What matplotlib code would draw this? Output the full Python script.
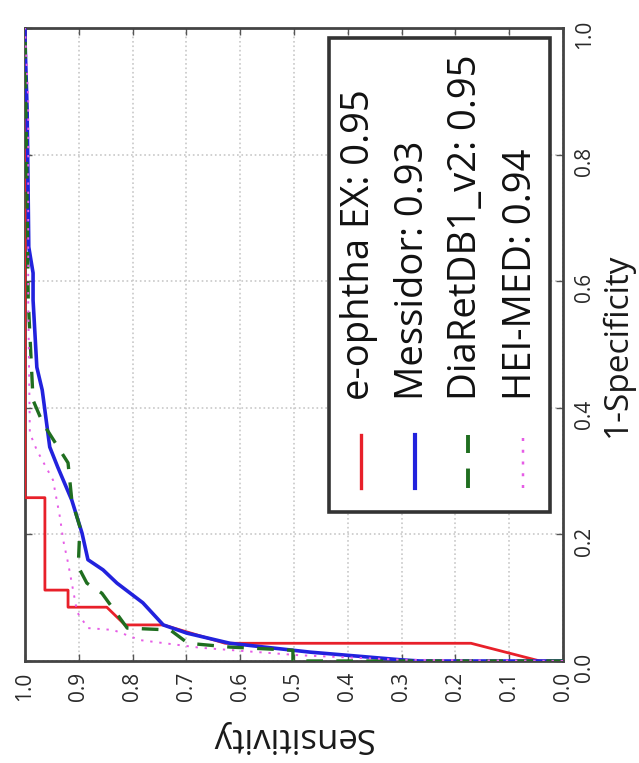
import numpy as np
import matplotlib
matplotlib.use("Agg")
import matplotlib.pyplot as plt
from matplotlib.patches import Rectangle

plt.rcParams['font.family'] = ['Open Sans', 'DejaVu Sans']

# ROC points per dataset: sensitivity (tpr) against 1-specificity (fpr)
eophtha_tpr = [0.0, 0.043, 0.171, 0.628, 0.743, 0.814, 0.848, 0.920, 0.920, 0.963, 0.963, 1.0, 1.0]
eophtha_fpr = [0.0, 0.0, 0.028, 0.028, 0.057, 0.057, 0.085, 0.085, 0.112, 0.112, 0.258, 0.258, 1.0]

messidor_tpr = [0.0, 0.266, 0.303, 0.470, 0.619, 0.699, 0.743, 0.781, 0.829, 0.855, 0.883,
                0.894, 0.913, 0.939, 0.954, 0.968, 0.978, 0.985, 0.985, 0.993, 0.996, 1.0, 1.0]
messidor_fpr = [0.0, 0.0, 0.002, 0.014, 0.028, 0.044, 0.057, 0.092, 0.123, 0.144, 0.160,
                0.202, 0.254, 0.306, 0.338, 0.428, 0.464, 0.570, 0.613, 0.654, 0.870, 0.981, 1.0]

diaret_tpr = [0.0, 0.502, 0.502, 0.619, 0.697, 0.730, 0.810, 0.857, 0.885, 0.901, 0.898,
              0.913, 0.920, 0.967, 0.985, 0.994, 1.0]
diaret_fpr = [0.0, 0.0, 0.017, 0.022, 0.028, 0.049, 0.052, 0.107, 0.123, 0.149, 0.212,
              0.254, 0.313, 0.376, 0.412, 0.570, 1.0]

heimed_tpr = [0.0, 0.303, 0.489, 0.675, 0.786, 0.836, 0.883, 0.903, 0.920, 0.929, 0.935,
              0.948, 0.978, 0.991, 0.994, 0.994, 1.0]
heimed_fpr = [0.0, 0.002, 0.009, 0.021, 0.033, 0.049, 0.052, 0.077, 0.155, 0.191, 0.227,
              0.286, 0.333, 0.360, 0.570, 0.886, 1.0]

names = ['e-ophtha EX', 'Messidor', 'DiaRetDB1_v2', 'HEI-MED']
aucs = [0.95, 0.93, 0.95, 0.94]

sens_ticks = [0.0, 0.1, 0.2, 0.3, 0.4, 0.5, 0.6, 0.7, 0.8, 0.9, 1.0]
spec_ticks = [0.0, 0.2, 0.4, 0.6, 0.8, 1.0]

curves = [(eophtha_tpr, eophtha_fpr), (messidor_tpr, messidor_fpr),
          (diaret_tpr, diaret_fpr), (heimed_tpr, heimed_fpr)]
colors = ['#e8202a', '#2222dd', '#1f6e1f', '#e65ce6']
styles = ['-', '-', (0, (5, 4)), (0, (1.2, 3.5))]
widths = [2.0, 2.6, 2.4, 1.4]

fig = plt.figure(figsize=(6.39, 7.63), dpi=100)
ax = fig.add_axes([25 / 639, 1 - 661 / 763, 538 / 639, 633 / 763])

# chart is drawn turned on its side: sensitivity runs horizontally, reversed
for (tpr, fpr), c, ls, lw in zip(curves, colors, styles, widths):
    ax.plot(tpr, fpr, color=c, linestyle=ls, linewidth=lw, zorder=3)

ax.set_xlim(1.0, 0.0)
ax.set_ylim(0.0, 1.0)
ax.set_xticks(sens_ticks)
ax.set_xticklabels(['%.1f' % v for v in sens_ticks], rotation=90, fontsize=15)
ax.yaxis.tick_right()
ax.set_yticks(spec_ticks)
ax.set_yticklabels(['%.1f' % v for v in spec_ticks], rotation=90, fontsize=15)
ax.tick_params(direction='in', length=5, width=1, colors='#555555',
               top=True, bottom=True, left=True, right=True, pad=8)
ax.tick_params(labelcolor='#2a2a2a')
ax.grid(True, color='#c8c8c8', linestyle=':', linewidth=1.2)
for s in ax.spines.values():
    s.set_color('#444444')
    s.set_linewidth(2.0)

fig.text(292 / 639, 1 - 737 / 763, 'Sensitivity', rotation=180, ha='center', va='center',
         fontsize=25, color='#1a1a1a')
fig.text(617 / 639, 1 - 345 / 763, '1-Specificity', rotation=90, ha='center', va='center',
         fontsize=24, color='#1a1a1a')

# hand-built legend with vertical entries
ax.add_patch(Rectangle((0.565, 0.235), 0.411, 0.749, transform=ax.transAxes,
                       facecolor='white', edgecolor='#333333', linewidth=2.6, zorder=5))
cols = [0.6245, 0.725, 0.823, 0.926]
for x, c, ls, lw, name, auc in zip(cols, colors, styles, widths, names, aucs):
    ax.plot([x, x], [0.273, 0.357], transform=ax.transAxes, color=c, linestyle=ls,
            linewidth=lw + 0.4, zorder=6, clip_on=False)
    ax.text(x - 0.004, 0.412, '%s: %.2f' % (name, auc), transform=ax.transAxes,
            rotation=90, ha='center', va='bottom', fontsize=27.5, color='#111111', zorder=6)

fig.savefig('out.png', dpi=100)
